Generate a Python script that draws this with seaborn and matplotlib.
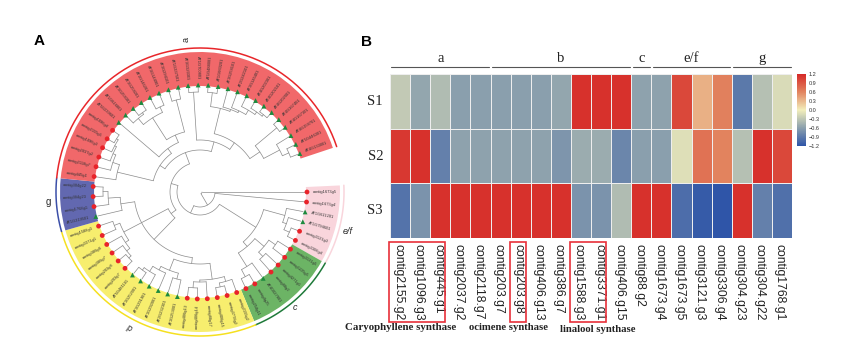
import numpy as np
import pandas as pd
import matplotlib
matplotlib.use('Agg')
import matplotlib.pyplot as plt
from matplotlib.colors import LinearSegmentedColormap
from matplotlib.patches import Rectangle
from matplotlib.transforms import ScaledTranslation
import seaborn as sns

W, H = 846, 362

# heatmap
samples = ['S1', 'S2', 'S3']
genes = ['contig2155.g2', 'contig1096.g3', 'contig445.g1', 'contig2037.g2', 'contig2118.g7',
         'contig203.g7', 'contig203.g8', 'contig406.g13', 'contig386.g7', 'contig1588.g3',
         'contig3371.g1', 'contig406.g15', 'contig88.g2', 'contig1673.g4', 'contig1673.g5',
         'contig3121.g3', 'contig3306.g4', 'contig304.g23', 'contig304.g22', 'contig1768.g1']
s1_values = [-0.28, -0.55, -0.38, -0.6, -0.6, -0.6, -0.6, -0.6, -0.55, 1.15,
             1.15, 1.15, -0.58, -0.58, 1.0, 0.35, 0.62, -0.9, -0.35, -0.15]
s2_values = [1.1, 1.15, -0.85, -0.58, -0.58, -0.58, -0.58, -0.58, -0.68, -0.5,
             -0.5, -0.8, -0.6, -0.6, -0.12, 0.72, 0.6, -0.35, 1.15, 1.0]
s3_values = [-0.95, -0.7, 1.15, 1.15, 1.15, 1.15, 1.15, 1.15, 1.15, -0.7,
             -0.7, -0.38, 1.15, 1.15, -1.0, -1.15, -1.2, 1.15, -0.85, -0.98]
group_names = ['a', 'b', 'c', 'e/f', 'g']
group_starts = [0, 5, 12, 13, 17]
group_ends = [5, 12, 13, 17, 20]
box_starts = [0, 6, 9]
box_ends = [3, 7, 11]
synthases = ['Caryophyllene synthase', 'ocimene synthase', 'linalool synthase']

# tree leaves, clockwise
ef_leaves = ['contig1673g5', 'contig1673g4', 'AT1G611201', 'AT1G794601', 'contig3121g3', 'contig3306g4']
c_leaves = ['contig3131g5', 'contig5225g5', 'contig4271g1', 'contig88g2', 'AT4G027801', 'contig4g25', 'contig254g11']
d_leaves = ['contig2155g2', 'contig3778g2', 'contig406g15', 'contig88g17', 'contig406g14', 'contig406g13',
            'AT3G253001', 'AT2G232301', 'AT3G292001', 'AT3G291901', 'AT3G252001', 'AT5G481101',
            'contig203g7', 'contig203g8', 'contig386g7', 'contig386g6', 'contig3371g1', 'contig1588g3']
g_leaves = ['AT1G319501', 'contig1768g1', 'contig304g23', 'contig304g22']
a_leaves = ['contig445g1', 'contig2118g7', 'contig2037g2', 'contig1096g3', 'contig2155g5', 'contig1096g4',
            'AT5G239601', 'AT1G616801', 'AT3G258301', 'AT3G258201', 'AT3G145201', 'AT3G144901',
            'AT3G294101', 'AT1G337501', 'AT3G320301', 'AT1G700801', 'AT1G488001', 'AT1G660201',
            'AT3G258101', 'AT2G242101', 'AT3G145401', 'AT4G202301', 'AT4G202101', 'AT4G202001',
            'AT4G167401', 'AT4G167301', 'AT4G158701', 'AT5G446301', 'AT4G133001']

# tree topology: (node radius, child, child), ints are leaf numbers
ef_clade = (88, 2, (92, 3, (98, 4, 5)))
c_clade = (72, (84, (92, 6, 7), (90, 8, 9)), (88, 10, (96, 11, 12)))
efc_clade = (66, ef_clade, c_clade)
d_low = (72, (88, (93, 13, (97, 14, 15)), (90, 16, (96, 17, 18))),
         (84, (90, 19, 20), (88, 21, (94, 22, (97, 23, 24)))))
d_up = (86, (92, 30, 29), (90, 28, (94, 27, (97, 26, 25))))
g_clade = (80, 31, (92, 32, (97, 33, 34)))
dg_clade = (36, (66, d_low, g_clade), d_up)
a1 = (85, 35, (92, 36, (95, 37, (97, 38, (99, 39, 40)))))
a2 = (62, (88, (96, 42, (98, 43, 44)), (94, 45, 46)), (95, 47, 48))
a_left = (48, a1, (54, 41, a2))
a3 = (52, (100, 49, 50),
      (60, (86, (100, 51, 52), (88, 53, (90, 54, (95, 55, (98, 56, (100, 57, 58)))))),
       (72, (100, 59, 60), (90, 61, (97, 62, 63)))))
a_clade = (42, a_left, a3)
tree = (2, 0, (15, 1, (23, efc_clade, (30, dg_clade, a_clade))))

clade_sizes = [len(ef_leaves), len(c_leaves), len(d_leaves), len(g_leaves), len(a_leaves)]
band_colors = ['#f9d5dc', '#6cb465', '#f7ee6e', '#6268b0', '#f1686a']
arc_colors = ['#f9d5dc', '#1f7a3a', '#f5e020', '#3b4fa8', '#e8262a']

sns.set_theme(style='white')
plt.rcParams['font.family'] = ['Liberation Sans', 'DejaVu Sans']

fig = plt.figure(figsize=(W / 100, H / 100), dpi=100, facecolor='white')


def box(x0, y0, x1, y1):
    return [x0 / W, 1 - y1 / H, (x1 - x0) / W, (y1 - y0) / H]


def label(x, y, s, **kw):
    fig.text(x / W, 1 - y / H, s, ha='center', va='center', **kw)


# --- A: circular tree, radius in pixels ---
cx, cy, R = 200, 192, 150
ax_a = fig.add_axes(box(cx - R, cy - R, cx + R, cy + R), projection='polar')
ax_a.set_theta_direction(-1)
ax_a.set_theta_zero_location('E')

names = ef_leaves + c_leaves + d_leaves + g_leaves + a_leaves
step = np.deg2rad(5.38)
leaves = pd.DataFrame({'name': names})
leaves['theta'] = leaves.index * step
leaves['r'] = 107
leaves['kind'] = ['AT' if n.startswith('AT') else 'contig' for n in names]

start = 0
for size, band, arc in zip(clade_sizes, band_colors, arc_colors):
    t0 = (start - 0.5) * step
    t1 = (start + size - 0.5) * step
    ax_a.bar((t0 + t1) / 2, 34, width=t1 - t0, bottom=106, color=band, linewidth=0, zorder=1)
    tt = np.linspace(t0, t1, 60)
    ax_a.plot(tt, np.full_like(tt, 144.0), color=arc, lw=1.1, zorder=1)
    start += size

line_kw = dict(color='#8a8a8a', lw=0.5, zorder=2)


def draw_node(node):
    if isinstance(node, int):
        return node * step, 105
    r, left, right = node
    kids = [draw_node(left), draw_node(right)]
    thetas = [k[0] for k in kids]
    for th, kr in kids:
        ax_a.plot([th, th], [r, kr], **line_kw)
    tt = np.linspace(min(thetas), max(thetas), 50)
    ax_a.plot(tt, np.full_like(tt, float(r)), **line_kw)
    return sum(thetas) / 2, r


draw_node(tree)

sns.scatterplot(data=leaves, x='theta', y='r', hue='kind', style='kind',
                markers={'contig': 'o', 'AT': '^'},
                palette={'contig': '#e8232a', 'AT': '#1c8a3e'},
                s=12, linewidth=0, legend=False, ax=ax_a, zorder=3)

for _, row in leaves.iterrows():
    deg = np.rad2deg(row['theta'])
    flip = 90 < deg < 270
    ax_a.text(row['theta'], 113, row['name'], fontsize=2.9,
              rotation=-deg + 180 if flip else -deg, rotation_mode='anchor',
              ha='right' if flip else 'left', va='center', color='#333333', zorder=4)

ax_a.set_ylim(0, R)
ax_a.set_axis_off()

label(186, 40, 'a', fontsize=6.5, rotation=90)
label(48, 202, 'g', fontsize=7)
label(130, 327, 'd', fontsize=6.5, rotation=145)
label(295, 308, 'c', fontsize=6.5, style='italic')
label(348, 232, 'e/f', fontsize=6.5, style='italic')
label(39, 41, 'A', fontsize=11, fontweight='bold', color='black')
label(366, 42, 'B', fontsize=11, fontweight='bold', color='black')

# --- B: heatmap ---
ax_b = fig.add_axes(box(390, 74, 792, 238))
ax_c = fig.add_axes(box(797, 74, 806, 146))
cmap = LinearSegmentedColormap.from_list(
    'expr', ['#2f55a8', '#8a9fad', '#f2eebb', '#e2845f', '#d62a28'])
matrix = pd.DataFrame([s1_values, s2_values, s3_values], index=samples, columns=genes)
sns.heatmap(matrix, ax=ax_b, cbar_ax=ax_c, cmap=cmap, vmin=-1.2, vmax=1.2,
            linewidths=0.45, linecolor='#eeeeee',
            cbar_kws={'ticks': [1.2, 0.9, 0.6, 0.3, 0, -0.3, -0.6, -0.9, -1.2]})
ax_b.set_xlabel('')
ax_b.set_ylabel('')
ax_b.set_xticklabels(genes, rotation=270, fontsize=8.7, color='#222222')
ax_b.set_yticklabels(samples, rotation=0, fontsize=10.5, family='Liberation Serif', color='#222222')
ax_b.tick_params(axis='x', length=0, pad=4)
ax_b.tick_params(axis='y', length=0, pad=5)
# gene names sit a little left of the column centres
for tick_text in ax_b.get_xticklabels():
    tick_text.set_transform(tick_text.get_transform() + ScaledTranslation(-0.02, 0, fig.dpi_scale_trans))

ax_c.tick_params(length=0, labelsize=4, pad=2, labelcolor='#333333')
ax_b.collections[0].colorbar.outline.set_visible(False)

for name, g0, g1 in zip(group_names, group_starts, group_ends):
    ax_b.plot([g0 + 0.07, g1 - 0.07], [-0.13, -0.13], color='#555555', lw=0.8, clip_on=False)
    ax_b.text((g0 + g1) / 2, -0.17, name, ha='center', va='bottom', fontsize=10.5,
              family='Liberation Serif', color='#222222')

for b0, b1 in zip(box_starts, box_ends):
    ax_b.add_patch(Rectangle((b0 - 0.05, 3.07), b1 - b0 - 0.2, 1.47, fill=False,
                             edgecolor='#e8303a', lw=1.2, clip_on=False))

label(401, 327, synthases[0], fontsize=7.8, fontweight='bold', family='Liberation Serif', color='#222222')
label(508, 327, synthases[1], fontsize=7.7, fontweight='bold', family='Liberation Serif', color='#222222')
label(598, 330, synthases[2], fontsize=7.7, fontweight='bold', family='Liberation Serif', color='#222222')

fig.savefig('out.png', dpi=100)
